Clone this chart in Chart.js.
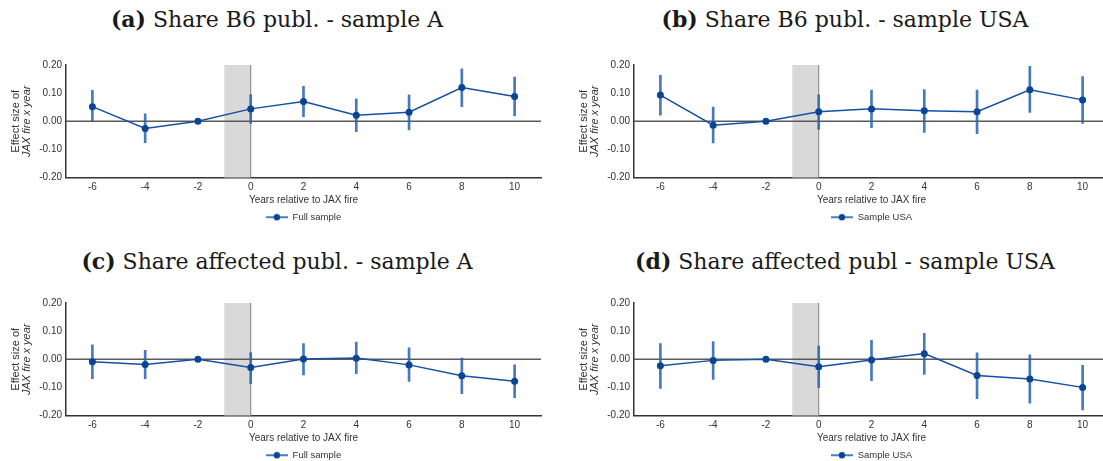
<!DOCTYPE html>
<html>
<head>
<meta charset="utf-8">
<script src="https://cdn.jsdelivr.net/npm/chart.js@4.4.1/dist/chart.umd.min.js"></script>
<style>
  body { margin: 0; width: 1103px; height: 461px; overflow: hidden; background: #fff; position: relative; }
  .title { position: absolute; width: 500px; text-align: center; white-space: nowrap;
           font-family: "DejaVu Serif", serif; font-size: 22px; color: #1a1a1a; }
  canvas.panel { position: absolute; }
</style>
</head>
<body>
<div class="title" style="left:27px; top:6px;"><b>(a)</b> Share B6 publ. - sample A</div>
<div class="title" style="left:595px; top:6px;"><b>(b)</b> Share B6 publ. - sample USA</div>
<div class="title" style="left:27px; top:248px;"><b>(c)</b> Share affected publ. - sample A</div>
<div class="title" style="left:595px; top:248px;"><b>(d)</b> Share affected publ - sample USA</div>

<canvas class="panel" id="panelA" width="560" height="192" style="left:0; top:40px;"></canvas>
<canvas class="panel" id="panelB" width="560" height="192" style="left:560px; top:40px;"></canvas>
<canvas class="panel" id="panelC" width="560" height="192" style="left:0; top:278px;"></canvas>
<canvas class="panel" id="panelD" width="560" height="192" style="left:560px; top:278px;"></canvas>

<script>
// event-study coefficients by year relative to the fire (-2 is the reference year)
const years = [-6, -4, -2, 0, 2, 4, 6, 8, 10];
const xTicks = [-6, -4, -2, 0, 2, 4, 6, 8, 10];
const yTicks = [-0.2, -0.1, 0, 0.1, 0.2];

// (a) share B6 publications, full sample
const coefA = [0.052, -0.026, 0, 0.044, 0.070, 0.021, 0.032, 0.120, 0.088];
const loA   = [-0.001, -0.076, null, -0.008, 0.016, -0.037, -0.031, 0.052, 0.019];
const hiA   = [0.110, 0.026, null, 0.095, 0.124, 0.080, 0.094, 0.186, 0.157];

// (b) share B6 publications, USA sample
const coefB = [0.093, -0.014, 0, 0.034, 0.044, 0.037, 0.034, 0.112, 0.076];
const loB   = [0.022, -0.077, null, -0.029, -0.023, -0.040, -0.044, 0.031, -0.008];
const hiB   = [0.163, 0.050, null, 0.094, 0.111, 0.113, 0.111, 0.195, 0.159];

// (c) share affected publications, full sample
const coefC = [-0.009, -0.019, 0, -0.029, 0.001, 0.004, -0.020, -0.059, -0.078];
const loC   = [-0.069, -0.069, null, -0.087, -0.056, -0.051, -0.079, -0.122, -0.137];
const hiC   = [0.051, 0.032, null, 0.024, 0.056, 0.061, 0.041, 0.004, -0.020];

// (d) share affected publications, USA sample
const coefD = [-0.023, -0.004, 0, -0.027, -0.003, 0.020, -0.058, -0.070, -0.100];
const loD   = [-0.104, -0.072, null, -0.101, -0.076, -0.054, -0.140, -0.156, -0.180];
const hiD   = [0.056, 0.063, null, 0.047, 0.067, 0.092, 0.023, 0.016, -0.022];

const lineBlue = '#1550a3';
const dotBlue = '#0a4494';
const ciBlue = 'rgba(40, 98, 176, 0.85)';
const textGrey = '#333';
const sans = 'Liberation Sans, Arial, sans-serif';

// legend icon: short line with a dot in the middle
const legendIcon = document.createElement('canvas');
legendIcon.width = 22;
legendIcon.height = 8;
(function () {
    const c = legendIcon.getContext('2d');
    c.strokeStyle = lineBlue;
    c.lineWidth = 1.5;
    c.beginPath();
    c.moveTo(0, 4);
    c.lineTo(22, 4);
    c.stroke();
    c.fillStyle = dotBlue;
    c.beginPath();
    c.arc(11, 4, 3.2, 0, Math.PI * 2);
    c.fill();
})();

// shaded pre-fire year, zero line, vertical line at the fire, y title
const backdrop = {
    id: 'backdrop',
    beforeDatasetsDraw(chart) {
        const { ctx, chartArea: a, scales: { x, y } } = chart;
        ctx.save();
        const x0 = x.getPixelForValue(-1);
        const x1 = x.getPixelForValue(0);
        ctx.fillStyle = '#d9d9d9';
        ctx.fillRect(x0, a.top, x1 - x0, a.bottom - a.top);

        ctx.strokeStyle = '#808080';
        ctx.lineWidth = 1;
        ctx.beginPath();
        ctx.moveTo(x1, a.top);
        ctx.lineTo(x1, a.bottom);
        ctx.stroke();

        const y0 = y.getPixelForValue(0);
        ctx.strokeStyle = '#5a5a5a';
        ctx.lineWidth = 1.5;
        ctx.beginPath();
        ctx.moveTo(a.left, y0);
        ctx.lineTo(a.right, y0);
        ctx.stroke();
        ctx.restore();
    },
    afterDraw(chart) {
        const { ctx, chartArea: a } = chart;
        const cy = (a.top + a.bottom) / 2;
        ctx.save();
        ctx.fillStyle = textGrey;
        ctx.textAlign = 'center';
        ctx.textBaseline = 'middle';
        ctx.translate(a.left - 50, cy);
        ctx.rotate(-Math.PI / 2);
        ctx.font = '11px ' + sans;
        ctx.fillText('Effect size of', 0, 0);
        ctx.font = 'italic 11px ' + sans;
        ctx.fillText('JAX fire x year', 0, 11);
        ctx.restore();
    }
};

function makePanel(id, coef, lo, hi, label, axisWidth, padRight) {
    const points = years.map((x, i) => ({ x: x, y: coef[i] }));
    const bars = [];
    years.forEach((x, i) => {
        if (lo[i] !== null) bars.push({ x: x, y: [lo[i], hi[i]] });
    });

    return new Chart(document.getElementById(id), {
        data: {
            datasets: [
                {
                    type: 'line',
                    label: label,
                    data: points,
                    borderColor: lineBlue,
                    borderWidth: 1.5,
                    pointRadius: 3.5,
                    pointBackgroundColor: dotBlue,
                    pointBorderWidth: 0,
                    order: 0
                },
                {
                    type: 'bar',
                    label: 'ci',
                    data: bars,
                    backgroundColor: ciBlue,
                    barThickness: 2,
                    order: 1
                }
            ]
        },
        options: {
            responsive: false,
            animation: false,
            layout: { padding: { top: 25, right: padRight, left: 0, bottom: 0 } },
            plugins: {
                tooltip: { enabled: false },
                legend: {
                    position: 'bottom',
                    fullSize: false,
                    labels: {
                        filter: item => item.datasetIndex === 0,
                        usePointStyle: true,
                        pointStyle: legendIcon,
                        pointStyleWidth: 22,
                        padding: 6,
                        color: textGrey,
                        font: { family: sans, size: 9.5 }
                    }
                }
            },
            scales: {
                x: {
                    type: 'linear',
                    min: -7,
                    max: 11,
                    offset: false,
                    afterBuildTicks: s => { s.ticks = xTicks.map(v => ({ value: v })); },
                    afterFit: s => { s.height = 29; },
                    grid: { display: false, drawTicks: false, offset: false },
                    border: { color: '#333', width: 1.5 },
                    ticks: { padding: 4, color: textGrey, font: { family: sans, size: 10 }, maxRotation: 0 },
                    title: {
                        display: true,
                        text: 'Years relative to JAX fire',
                        color: textGrey,
                        font: { family: sans, size: 10 },
                        padding: { top: 0, bottom: 0 }
                    }
                },
                y: {
                    min: -0.2,
                    max: 0.2,
                    afterBuildTicks: s => { s.ticks = yTicks.map(v => ({ value: v })); },
                    afterFit: s => { s.width = axisWidth; },
                    grid: { display: false, drawTicks: false },
                    border: { color: '#333', width: 1.5 },
                    ticks: {
                        padding: 4,
                        color: textGrey,
                        font: { family: sans, size: 10 },
                        callback: v => v.toFixed(2)
                    }
                }
            }
        },
        plugins: [backdrop]
    });
}

makePanel('panelA', coefA, loA, hiA, 'Full sample', 66, 19);
makePanel('panelB', coefB, loB, hiB, 'Sample USA', 74, 11);
makePanel('panelC', coefC, loC, hiC, 'Full sample', 66, 19);
makePanel('panelD', coefD, loD, hiD, 'Sample USA', 74, 11);
</script>
</body>
</html>
